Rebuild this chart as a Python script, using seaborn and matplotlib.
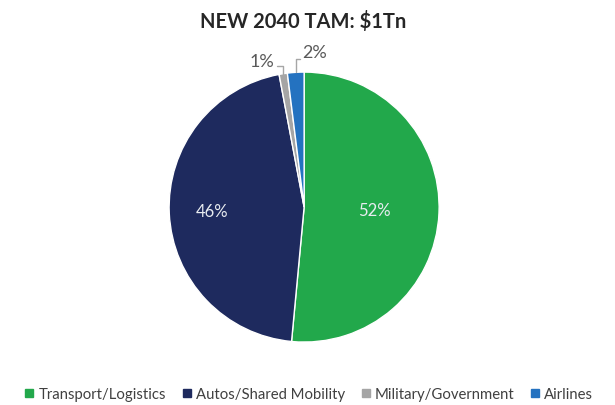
import numpy as np
import matplotlib
matplotlib.use("Agg")
import matplotlib.pyplot as plt
import seaborn as sns
from matplotlib.lines import Line2D

# Segment shares of the new 2040 total addressable market
categories = ["Transport/Logistics", "Autos/Shared Mobility", "Military/Government", "Airlines"]
shares = [52, 46, 1, 2]
labels = ["52%", "46%", "1%", "2%"]
title = "NEW 2040 TAM: $1Tn"

sns.set_theme(style="white")
plt.rcParams["font.family"] = ["Lato", "DejaVu Sans"]

colors = sns.color_palette(["#22A84B", "#1E2A5E", "#A5A5A5", "#2472C0"])

fig = plt.figure(figsize=(6.15, 4.06), dpi=100)
ax = fig.add_axes([0.275, 0.155, 0.439, 0.665])

wedges, _ = ax.pie(
    shares, colors=colors, startangle=90, counterclock=False,
    wedgeprops=dict(edgecolor="white", linewidth=1.0), radius=1.0,
)
ax.set_aspect("equal")
ax.set_xlim(-1.0, 1.0)
ax.set_ylim(-1.0, 1.0)

# Inside labels for the two large segments
inner_dist = {0: 0.52, 1: 0.68}
for i, d in inner_dist.items():
    w = wedges[i]
    ang = np.deg2rad((w.theta1 + w.theta2) / 2)
    ax.text(d * np.cos(ang), d * np.sin(ang), labels[i], ha="center", va="center",
            color="#E8ECF0", fontsize=12)

# Outside labels with elbow leader lines for the small segments:
# (label x, label y, elbow y, elbow end x)
outer = {2: (-0.31, 1.08, 1.045, -0.20), 3: (0.075, 1.15, 1.10, -0.03)}
for i, (tx, ty, ey_elb, ex_end) in outer.items():
    w = wedges[i]
    ang = np.deg2rad((w.theta1 + w.theta2) / 2)
    ex, ey = np.cos(ang), np.sin(ang)
    ax.plot([ex, ex, ex_end], [ey, ey_elb, ey_elb],
            color="#A6A6A6", lw=1.0, clip_on=False)
    ax.text(tx, ty, labels[i], ha="center", va="center",
            color="#595959", fontsize=13, clip_on=False)

fig.text(0.493, 0.948, title, ha="center", va="center", fontsize=14.5,
         fontweight="bold", color="#262626")

handles = [Line2D([0], [0], marker="s", linestyle="none", markersize=5.5,
                  markerfacecolor=c, markeredgecolor=c) for c in colors]
fig.legend(handles, categories, loc="center", bbox_to_anchor=(0.5, 0.027),
           ncol=4, frameon=False, fontsize=10.7, handletextpad=0.1,
           columnspacing=0.9, handlelength=1.0, labelcolor="#404040")

fig.savefig("out.png", dpi=100, facecolor="white")
